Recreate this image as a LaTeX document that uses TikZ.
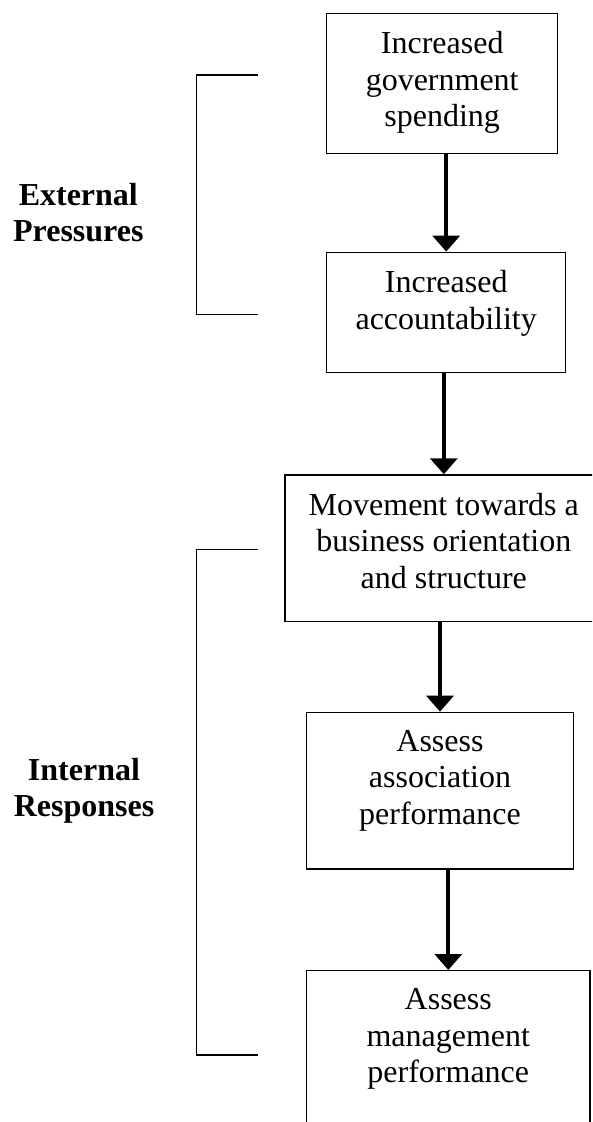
\documentclass[tikz,border=0pt]{standalone}
\usepackage{fontspec}
\setmainfont{Liberation Serif}
\usetikzlibrary{arrows.meta}
% fixed-size box body with the text hung from the top edge
\newcommand\stagetext[3]{\parbox[c][#2][t]{#1}{\vspace*{18pt}\centering #3\par}}
\begin{document}
\begin{tikzpicture}[x=1pt,y=1pt,
  stage/.style={draw, line width=1.4pt, inner sep=0pt, rectangle,
    font=\fontsize{32}{36.5}\selectfont},
  flow/.style={line width=3.7pt, -{Triangle[width=27pt,length=16pt]}},
  bracket/.style={line width=1.1pt},
  group/.style={font=\fontsize{32}{36}\selectfont\bfseries, align=center,
    anchor=north, inner sep=0pt}]
\clip (0,0) rectangle (592,-1122);

% stages of the chain
\node[stage] (gov)   at (442.2,-83.3)  {\stagetext{231pt}{140pt}{Increased\\government\\spending}};
\node[stage] (acc)   at (446.2,-312.3) {\stagetext{239pt}{120pt}{Increased\\accountability}};
\node[stage] (move)  at (443.8,-548.3) {\stagetext{317.6pt}{146.7pt}{Movement towards a\\business orientation\\and structure}};
\node[stage] (assoc) at (440,-790.7)   {\stagetext{266.6pt}{156.7pt}{Assess\\association\\performance}};
\node[stage] (mgmt)  at (448.3,-1060.7){\stagetext{283.3pt}{180pt}{Assess\\management\\performance}};

% arrows between stages
\draw[flow] (acc.north |- gov.south) -- (acc.north);
\draw[flow] (move.north |- acc.south) -- (move.north);
\draw[flow] (assoc.north |- move.south) -- (assoc.north);
\draw[flow] (mgmt.north |- assoc.south) -- (mgmt.north);

% group brackets
\coordinate (ext-top) at (257.7,-75);
\coordinate (ext-bot) at (257.7,-314.3);
\coordinate (int-top) at (257.7,-549.3);
\coordinate (int-bot) at (257.7,-1055);
\draw[bracket] (ext-top) -- ++(-61,0) |- (ext-bot);
\draw[bracket] (int-top) -- ++(-61,0) |- (int-bot);

% group labels
\node[group] (ext) at (78.3,-183.4) {External\\Pressures};
\node[group] (int) at (84,-757.7)   {Internal\\Responses};
\end{tikzpicture}
\end{document}
